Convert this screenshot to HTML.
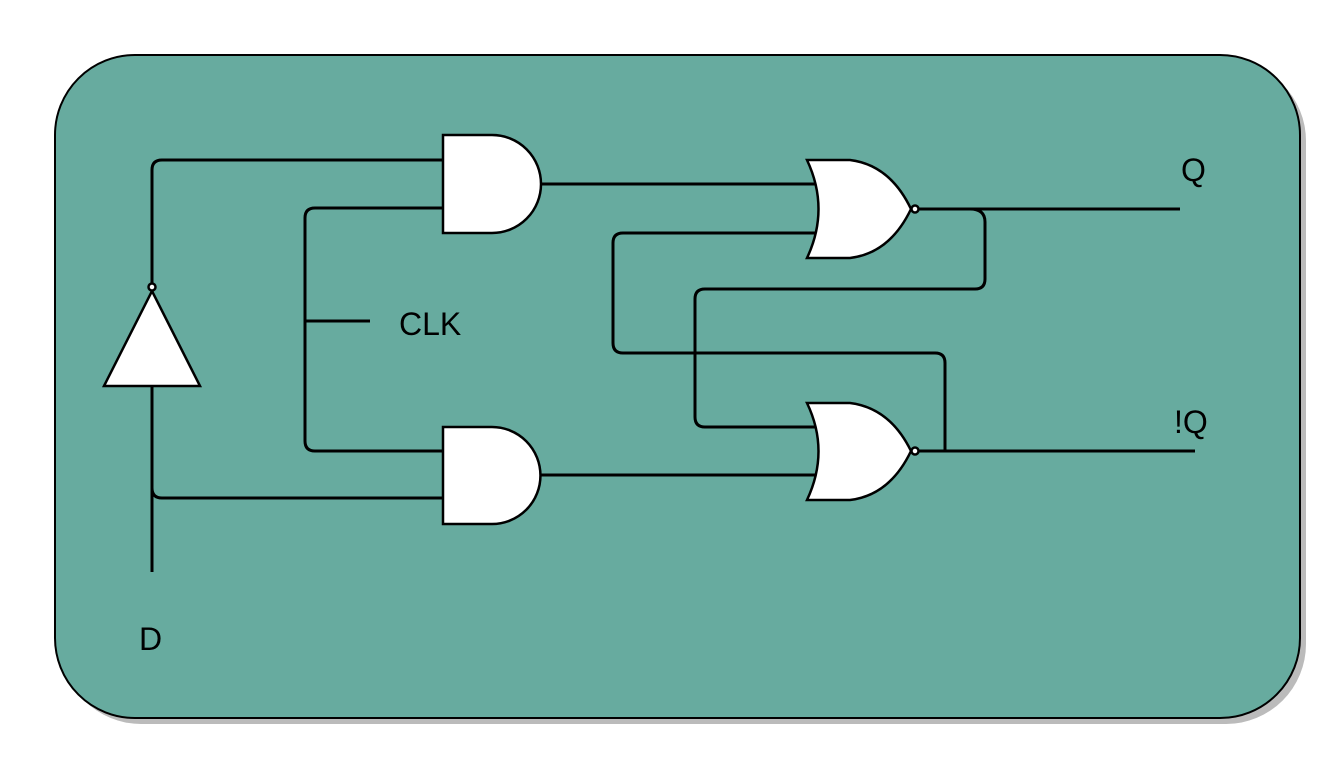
<!DOCTYPE html>
<html><head><style>body{margin:0;background:#fff}svg{display:block}</style></head><body>
<svg width="1330" height="760" viewBox="0 0 1330 760" xmlns="http://www.w3.org/2000/svg">
<rect x="61" y="61" width="1245" height="663" rx="80" fill="#bbb"/>
<rect x="55" y="55" width="1245" height="663" rx="80" fill="#67ab9f" stroke="#000" stroke-width="2"/>
<g fill="none" stroke="#000" stroke-width="3" stroke-linejoin="round">
<path d="M152 283 V170 Q152 160 162 160 H443"/>
<path d="M152 386 V572"/>
<path d="M152 488 Q152 498 162 498 H443"/>
<path d="M443 208 H315 Q305 208 305 218 V441 Q305 451 315 451 H443"/>
<path d="M305 321 H370"/>
<path d="M540 184 H815"/>
<path d="M540 475 H815"/>
<path d="M919 209 H1180"/>
<path d="M970 209 Q985 209 985 222 V279 Q985 289 975 289 H705 Q695 289 695 299 V417 Q695 427 705 427 H815"/>
<path d="M919 451 H1195"/>
<path d="M945 451 V363 Q945 353 935 353 H623 Q613 353 613 343 V243 Q613 233 623 233 H815"/>
</g>
<g fill="#fff" stroke="#000" stroke-width="2.5">
<path d="M104 386 L152 291 L200 386 Z"/>
<circle cx="152" cy="287" r="3.5"/>
<path d="M443 135 H492 A49 49 0 0 1 492 233 H443 Z"/>
<path d="M443 427 H492 A48.5 48.5 0 0 1 492 524 H443 Z"/>
<path d="M807 160 H850 Q890 165 911 209 Q890 253 850 258 H807 Q830 209 807 160 Z"/>
<circle cx="915" cy="209" r="3.5"/>
<path d="M807 403 H850 Q890 408 911 451 Q890 495 850 500 H807 Q830 451 807 403 Z"/>
<circle cx="915" cy="451" r="3.5"/>
</g>
<g font-family="Liberation Sans, sans-serif" font-size="30" fill="#000">
<text x="399" y="335" font-size="32">CLK</text>
<text x="1181" y="181" font-size="32">Q</text>
<text x="1174" y="433" font-size="32">!Q</text>
<text x="139" y="650" font-size="32">D</text>
</g>
</svg>
</body></html>
